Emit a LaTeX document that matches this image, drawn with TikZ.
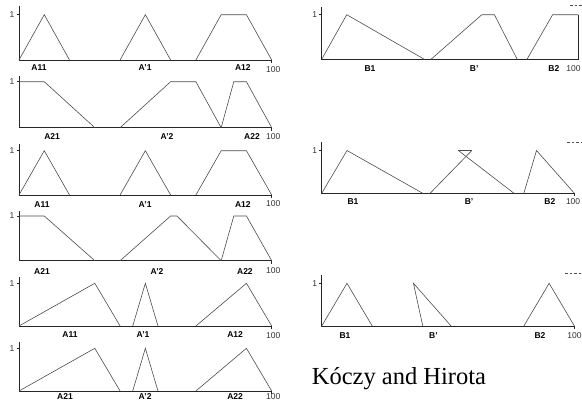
\documentclass[tikz,border=0pt]{standalone}
\usepackage{fontspec}
\setmainfont{Liberation Serif}
\setsansfont{Liberation Sans}
\begin{document}
\begin{tikzpicture}[x=1pt,y=1pt,
    axis/.style={line width=0.8pt,black!85},
    mf/.style={line width=0.6pt,black!70},
    lab/.style={font=\sffamily\bfseries\fontsize{8.5}{9}\selectfont,inner sep=0pt},
    num/.style={font=\sffamily\fontsize{8.5}{9}\selectfont,inner sep=0pt,black!80},
    tail/.style={line width=0.5pt,dash pattern=on 2.5pt off 2pt,black!70}]
    \useasboundingbox (0,0) rectangle (582,-402);
    \clip (0,0) rectangle (582,-402);
    % left column: A1 / A2 rules
    \begin{scope}[shift={(19pt,-60pt)},x=2.527pt,y=45.3pt]
        \draw[axis] (0,1.2) -- (0,0) -- (100,0);
        \draw[axis] (0,1) -- ++(-2.5pt,0);
        \draw[axis] (100,0) -- ++(0,-3pt);
        \node[num] (la1one) at ([xshift=-7pt]0,1) {1};
        \node[num] (la1end) at ([xshift=1.5pt,yshift=-10pt]100,0) {100};
        \draw[mf] (0,0)--(10,1)--(20,0);
        \draw[mf] (40,0)--(50,1)--(60,0);
        \draw[mf] (70,0)--(80,1)--(90,1)--(100,0);
        \node[lab] (a11a) at ([yshift=-8pt]7.9,0) {A11};
        \node[lab] (ap1a) at ([yshift=-8pt]49.9,0) {A'1};
        \node[lab] (a12a) at ([yshift=-8pt]88.6,0) {A12};
    \end{scope}
    \begin{scope}[shift={(19pt,-127.7pt)},x=2.527pt,y=46pt]
        \draw[axis] (0,1.12) -- (0,0) -- (100,0);
        \draw[axis] (0,1) -- ++(-2.5pt,0);
        \draw[axis] (100,0) -- ++(0,-3pt);
        \node[num] (la2one) at ([xshift=-7pt]0,1) {1};
        \node[num] (la2end) at ([xshift=1.5pt,yshift=-9pt]100,0) {100};
        \draw[mf] (0,1)--(10,1)--(30,0);
        \draw[mf] (40,0)--(60,1)--(70,1)--(80,0);
        \draw[mf] (80,0)--(85,1)--(90,1)--(100,0);
        \node[lab] (a21a) at ([yshift=-8.5pt]13.1,0) {A21};
        \node[lab] (ap2a) at ([yshift=-8.5pt]58.6,0) {A'2};
        \node[lab] (a22a) at ([yshift=-8.5pt]92.2,0) {A22};
    \end{scope}
    \begin{scope}[shift={(19pt,-195pt)},x=2.527pt,y=44.3pt]
        \draw[axis] (0,1.15) -- (0,0) -- (100,0);
        \draw[axis] (0,1) -- ++(-2.5pt,0);
        \draw[axis] (100,0) -- ++(0,-3pt);
        \node[num] (la3one) at ([xshift=-7pt]0,1) {1};
        \node[num] (la3end) at ([xshift=1.5pt,yshift=-9pt]100,0) {100};
        \draw[mf] (0,0)--(10,1)--(20,0);
        \draw[mf] (40,0)--(50,1)--(60,0);
        \draw[mf] (70,0)--(80,1)--(90,1)--(100,0);
        \node[lab] (a11b) at ([yshift=-9.5pt]9.1,0) {A11};
        \node[lab] (ap1b) at ([yshift=-9.5pt]49.9,0) {A'1};
        \node[lab] (a12b) at ([yshift=-9.5pt]88.6,0) {A12};
    \end{scope}
    \begin{scope}[shift={(19pt,-260.7pt)},x=2.527pt,y=44.7pt]
        \draw[axis] (0,1.12) -- (0,0) -- (100,0);
        \draw[axis] (0,1) -- ++(-2.5pt,0);
        \draw[axis] (100,0) -- ++(0,-3pt);
        \node[num] (la4one) at ([xshift=-7pt]0,1) {1};
        \node[num] (la4end) at ([xshift=1.5pt,yshift=-10pt]100,0) {100};
        \draw[mf] (0,1)--(10,1)--(30,0);
        \draw[mf] (40,0)--(60,1)--(62.5,1)--(80,0);
        \draw[mf] (80,0)--(85,1)--(90,1)--(100,0);
        \node[lab] (a21b) at ([yshift=-10.5pt]9.1,0) {A21};
        \node[lab] (ap2b) at ([yshift=-10.5pt]54.6,0) {A'2};
        \node[lab] (a22b) at ([yshift=-10.5pt]89.4,0) {A22};
    \end{scope}
    \begin{scope}[shift={(19pt,-326pt)},x=2.527pt,y=42.7pt]
        \draw[axis] (0,1.15) -- (0,0) -- (100,0);
        \draw[axis] (0,1) -- ++(-2.5pt,0);
        \draw[axis] (100,0) -- ++(0,-3pt);
        \node[num] (la5one) at ([xshift=-7pt]0,1) {1};
        \node[num] (la5end) at ([xshift=1.5pt,yshift=-10pt]100,0) {100};
        \draw[mf] (0,0)--(30,1)--(40,0);
        \draw[mf] (45,0)--(50,1)--(55,0);
        \draw[mf] (70,0)--(90,1)--(100,0);
        \node[lab] (a11c) at ([yshift=-9pt]20.2,0) {A11};
        \node[lab] (ap1c) at ([yshift=-9pt]49.1,0) {A'1};
        \node[lab] (a12c) at ([yshift=-9pt]85.5,0) {A12};
    \end{scope}
    \begin{scope}[shift={(19pt,-391pt)},x=2.527pt,y=42.7pt]
        \draw[axis] (0,1.15) -- (0,0) -- (100,0);
        \draw[axis] (0,1) -- ++(-2.5pt,0);
        \draw[axis] (100,0) -- ++(0,-3pt);
        \node[num] (la6one) at ([xshift=-7pt]0,1) {1};
        \node[num] (la6end) at ([xshift=1.5pt,yshift=-6pt]100,0) {100};
        \draw[mf] (0,0)--(30,1)--(40,0);
        \draw[mf] (45,0)--(50,1)--(55,0);
        \draw[mf] (70,0)--(90,1)--(100,0);
        \node[lab] (a21c) at ([yshift=-6pt]18.2,0) {A21};
        \node[lab] (ap2c) at ([yshift=-6pt]49.9,0) {A'2};
        \node[lab] (a22c) at ([yshift=-6pt]85.5,0) {A22};
    \end{scope}
    % right column: B consequents
    \begin{scope}[shift={(321.7pt,-59.3pt)},x=2.566pt,y=44.6pt]
        \draw[axis] (0,1.18) -- (0,0) -- (100,0) -- (100,1);
        \draw[axis] (0,1) -- ++(-2.5pt,0);
        \node[num] (rb1one) at ([xshift=-7pt]0,1) {1};
        \node[num,anchor=east] (rb1end) at ([xshift=2.5pt,yshift=-9pt]100,0) {100};
        \draw[mf] (0,0)--(9.75,1)--(40,0);
        \draw[mf] (42.6,0)--(62.4,1)--(67.3,1)--(76.2,0);
        \draw[mf] (80,0)--(90,1)--(100,1);
        \node[lab] (b1a) at ([yshift=-9pt]18.8,0) {B1};
        \node[lab] (bpa) at ([yshift=-9pt]59.4,0) {B'};
        \node[lab] (b2a) at ([yshift=-9pt]90.5,0) {B2};
    \end{scope}
    \draw[tail] (570,-5) -- (582,-5);
    \begin{scope}[shift={(321.7pt,-193.3pt)},x=2.527pt,y=42.8pt]
        \draw[axis] (0,1.2) -- (0,0) -- (100,0);
        \draw[axis] (0,1) -- ++(-2.5pt,0);
        \draw[axis] (100,0) -- ++(0,-3pt);
        \node[num] (rb2one) at ([xshift=-7pt]0,1) {1};
        \node[num] (rb2end) at ([xshift=-1.3pt,yshift=-8.5pt]100,0) {100};
        \draw[mf] (0,0)--(10,1)--(40,0);
        \draw[mf] (42.9,0)--(59.4,1);
        \draw[mf] (54.1,1)--(76.1,0);
        \draw[mf] (54.1,1)--(59.4,1);
        \draw[mf] (80,0)--(85,1)--(100,0);
        \node[lab] (b1b) at ([yshift=-8.5pt]12.4,0) {B1};
        \node[lab] (bpb) at ([yshift=-8.5pt]58.3,0) {B'};
        \node[lab] (b2b) at ([yshift=-8.5pt]90.3,0) {B2};
    \end{scope}
    \draw[tail] (567,-142.7) -- (582,-142.7);
    \begin{scope}[shift={(321.7pt,-326pt)},x=2.527pt,y=42.7pt]
        \draw[axis] (0,1.2) -- (0,0) -- (100,0);
        \draw[axis] (0,1) -- ++(-2.5pt,0);
        \draw[axis] (100,0) -- ++(0,-3pt);
        \node[num] (rb3one) at ([xshift=-7pt]0,1) {1};
        \node[num] (rb3end) at ([yshift=-9.5pt]100,0) {100};
        \draw[mf] (0,0)--(10,1)--(20,0);
        \draw[mf] (40,0)--(36.3,1)--(51.2,0);
        \draw[mf] (80,0)--(90,1)--(100,0);
        \node[lab] (b1c) at ([yshift=-9.5pt]9.2,0) {B1};
        \node[lab] (bpc) at ([yshift=-9.5pt]44.2,0) {B'};
        \node[lab] (b2c) at ([yshift=-9.5pt]86.4,0) {B2};
    \end{scope}
    \draw[tail] (565,-273.3) -- (582,-273.3);
    \node[font=\fontsize{24.5}{28}\selectfont,anchor=west,inner sep=0pt] (title) at (311.7,-379) {Kóczy and Hirota};
\end{tikzpicture}
\end{document}
